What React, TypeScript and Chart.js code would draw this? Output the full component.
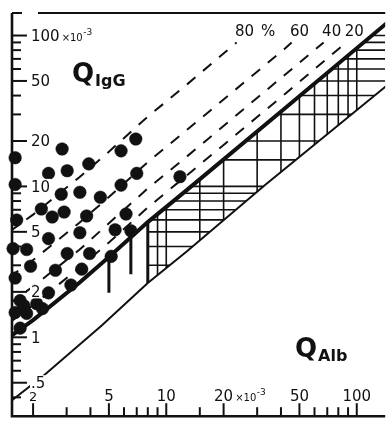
import React, { useEffect, useRef } from "react";
import { Chart, registerables } from "chart.js";

Chart.register(...registerables);

// ---- data (units ×10^-3) ----
const patientAlb = [1.61, 2.84, 2.41, 3.02, 3.92, 5.79, 6.92, 7.0, 1.61, 2.81, 3.52, 4.51, 5.79, 11.8, 2.21, 2.52, 2.91, 1.64, 3.82, 6.15, 2.41, 3.52, 5.39, 6.52, 1.57, 1.85, 3.02, 3.96, 5.14, 1.94, 2.62, 3.6, 1.61, 3.16, 2.41, 1.71, 1.79, 2.09, 2.24, 1.61, 1.85, 1.71];
const patientIgG = [15.5, 17.7, 12.2, 12.7, 14.1, 17.2, 20.6, 12.2, 10.3, 8.87, 9.14, 8.47, 10.2, 11.6, 7.08, 6.27, 6.76, 5.99, 6.37, 6.56, 4.51, 4.93, 5.16, 5.08, 3.87, 3.82, 3.59, 3.59, 3.44, 2.96, 2.78, 2.83, 2.47, 2.22, 1.97, 1.75, 1.62, 1.67, 1.55, 1.46, 1.44, 1.15];

const upperAlb = [1.5, 2, 3.5, 5, 8, 13, 42, 145];
const upperIgG = [1.0, 1.3, 2.3, 3.4, 5.8, 9.6, 33, 122];
const lowerAlb = [1.5, 2.3, 4.6, 8, 12.8, 33, 145];
const lowerIgG = [0.37, 0.565, 1.2, 2.29, 3.7, 10.2, 47];

const f20Alb = [1.5, 2, 3.5, 5, 8, 13, 42, 88];
const f20IgG = [1.25, 1.63, 2.9, 4.25, 7.25, 12, 41, 90];
const f40Alb = [1.5, 2, 3.5, 5, 8, 13, 42, 67];
const f40IgG = [1.67, 2.17, 3.8, 5.7, 9.7, 16, 55, 90];
const f60Alb = [1.5, 2, 3.5, 5, 8, 13, 42, 45.5];
const f60IgG = [2.5, 3.25, 5.75, 8.5, 14.5, 24, 82, 90];
const f80Alb = [1.5, 2, 3.5, 5, 8, 13, 23.4];
const f80IgG = [5, 6.5, 11.5, 17, 29, 48, 90];
const fractionLabels = ["20", "40", "60", "80"];

const barAlb = [5.0, 6.52];
const barTop = [3.44, 5.08];
const barBottom = [1.97, 2.62];

const xMajorTicks = [2, 5, 10, 20, 50, 100];
const xTickLabels = ["2", "5", "10", "20", "50", "100"];
const xMinorTicks = [3, 4, 6, 7, 8, 9, 15, 30, 40, 60, 70, 80, 90];
const yMajorTicks = [0.5, 1, 2, 5, 10, 20, 50, 100];
const yTickLabels = [".5", "1", "2", "5", "10", "20", "50", "100"];
const yMinorTicks = [0.4, 0.6, 0.7, 0.8, 0.9, 3, 4, 6, 7, 8, 9, 15, 30, 40, 60, 70, 80, 90];

const hatchStart = 8;
const hatchXLines = [9, 10, 15, 20, 30, 40, 50, 60, 70, 80, 90, 100];
const hatchYLines = [3, 4, 5, 6, 7, 8, 9, 10, 15, 20, 30, 40, 50, 60, 70, 80, 90, 100];

const X_MIN = 1.55, X_MAX = 141, Y_MIN = 0.305, Y_MAX = 141;

const INK = "#111";
const FONT = "'DejaVu Sans', sans-serif";

const pts = (xs: number[], ys: number[]) => xs.map((x, i) => ({ x, y: ys[i] }));

function drawText(ctx: CanvasRenderingContext2D, text: string, x: number, y: number, font: string, align: CanvasTextAlign = "left", bg = true) {
  ctx.font = font;
  ctx.textAlign = align;
  ctx.textBaseline = "alphabetic";
  const m = ctx.measureText(text);
  const w = m.width;
  if (bg) {
    const left = align === "center" ? x - w / 2 : align === "right" ? x - w : x;
    ctx.fillStyle = "#fff";
    ctx.fillRect(left - 1, y - m.actualBoundingBoxAscent - 1, w + 2, m.actualBoundingBoxAscent + m.actualBoundingBoxDescent + 2);
  }
  ctx.fillStyle = INK;
  ctx.fillText(text, x, y);
  return w;
}

function drawExp(ctx: CanvasRenderingContext2D, x: number, y: number) {
  const w1 = drawText(ctx, "×10", x, y, `10px ${FONT}`, "left", false);
  drawText(ctx, "-3", x + w1 + 0.5, y - 6, `9px ${FONT}`, "left", false);
}

const reiberPlugin = {
  id: "reiber",
  beforeDatasetsDraw(chart: any) {
    const { ctx, chartArea: ca } = chart;
    const xs = chart.scales.x, ys = chart.scales.y;
    const px = (v: number) => xs.getPixelForValue(v);
    const py = (v: number) => ys.getPixelForValue(v);

    // hatch region between limits for QAlb >= hatchStart
    const up = upperAlb.map((a, i) => [a, upperIgG[i]]).filter((p) => p[0] >= hatchStart);
    const lo = lowerAlb.map((a, i) => [a, lowerIgG[i]]).filter((p) => p[0] >= hatchStart);
    ctx.save();
    ctx.beginPath();
    ctx.rect(ca.left, ca.top, ca.right - ca.left, ca.bottom - ca.top);
    ctx.clip();
    ctx.beginPath();
    ctx.moveTo(px(up[0][0]), py(up[0][1]));
    for (let i = 1; i < up.length; i++) ctx.lineTo(px(up[i][0]), py(up[i][1]));
    for (let i = lo.length - 1; i >= 0; i--) ctx.lineTo(px(lo[i][0]), py(lo[i][1]));
    ctx.closePath();
    ctx.clip();
    ctx.strokeStyle = INK;
    ctx.lineWidth = 1.6;
    for (const v of hatchXLines) {
      ctx.beginPath();
      ctx.moveTo(px(v), ca.top);
      ctx.lineTo(px(v), ca.bottom);
      ctx.stroke();
    }
    for (const v of hatchYLines) {
      ctx.beginPath();
      ctx.moveTo(ca.left, py(v));
      ctx.lineTo(ca.right, py(v));
      ctx.stroke();
    }
    ctx.restore();

    // left boundary of hatch
    ctx.save();
    ctx.strokeStyle = INK;
    ctx.lineWidth = 3;
    ctx.beginPath();
    ctx.moveTo(px(hatchStart), py(up[0][1]));
    ctx.lineTo(px(hatchStart), py(lo[0][1]));
    ctx.stroke();

    // axes
    ctx.lineWidth = 2.6;
    ctx.beginPath();
    ctx.moveTo(ca.left, ca.top);
    ctx.lineTo(ca.left, ca.bottom);
    ctx.lineTo(ca.right, ca.bottom);
    ctx.stroke();
    ctx.lineWidth = 2;
    ctx.beginPath();
    ctx.moveTo(ca.left, ca.top);
    ctx.lineTo(ca.left + 10, ca.top);
    ctx.moveTo(ca.left + 26, ca.top);
    ctx.lineTo(ca.right, ca.top);
    ctx.stroke();

    ctx.lineWidth = 2;
    for (const v of yMajorTicks) {
      ctx.beginPath();
      ctx.moveTo(ca.left, py(v));
      ctx.lineTo(ca.left + 15, py(v));
      ctx.stroke();
    }
    for (const v of yMinorTicks) {
      ctx.beginPath();
      ctx.moveTo(ca.left, py(v));
      ctx.lineTo(ca.left + 9, py(v));
      ctx.stroke();
    }
    for (const v of xMajorTicks) {
      ctx.beginPath();
      ctx.moveTo(px(v), ca.bottom);
      ctx.lineTo(px(v), ca.bottom - 13);
      ctx.stroke();
    }
    for (const v of xMinorTicks) {
      ctx.beginPath();
      ctx.moveTo(px(v), ca.bottom);
      ctx.lineTo(px(v), ca.bottom - 9);
      ctx.stroke();
    }
    ctx.restore();
  },
  afterDatasetsDraw(chart: any) {
    const { ctx, chartArea: ca } = chart;
    const xs = chart.scales.x, ys = chart.scales.y;
    const px = (v: number) => xs.getPixelForValue(v);
    const py = (v: number) => ys.getPixelForValue(v);
    ctx.save();
    // y tick labels
    yMajorTicks.forEach((v, i) => {
      const w = drawText(ctx, yTickLabels[i], ca.left + 19, py(v) + 5.5, `15px ${FONT}`);
      if (v === 100) drawExp(ctx, ca.left + 19 + w + 2, py(v) + 5.5);
    });
    // x tick labels
    xMajorTicks.forEach((v, i) => {
      const small = v === 2;
      const w = drawText(ctx, xTickLabels[i], px(v), ca.bottom - 15, small ? `13px ${FONT}` : `15px ${FONT}`, "center");
      if (v === 20) drawExp(ctx, px(v) + w / 2 + 2, ca.bottom - 15);
    });
    // fraction labels at the ends of dashed lines
    const ends = [
      [f20Alb[f20Alb.length - 1], f20IgG[f20IgG.length - 1]],
      [f40Alb[f40Alb.length - 1], f40IgG[f40IgG.length - 1]],
      [f60Alb[f60Alb.length - 1], f60IgG[f60IgG.length - 1]],
      [f80Alb[f80Alb.length - 1], f80IgG[f80IgG.length - 1]],
    ];
    ends.forEach((e, i) => {
      drawText(ctx, fractionLabels[i], px(e[0]) + 8, py(e[1]) - 6, `15px ${FONT}`, "center", false);
    });
    const pctX = (px(ends[3][0]) + px(ends[2][0])) / 2 + 4;
    drawText(ctx, "%", pctX, py(ends[3][1]) - 6, `15px ${FONT}`, "center", false);

    // axis titles
    const wq = drawText(ctx, "Q", ca.left + 60, ca.top + 69, `bold 26px ${FONT}`, "left", false);
    drawText(ctx, "IgG", ca.left + 60 + wq + 1, ca.top + 73, `bold 16px ${FONT}`, "left", false);
    const wq2 = drawText(ctx, "Q", ca.left + 283, ca.bottom - 59, `bold 26px ${FONT}`, "left", false);
    drawText(ctx, "Alb", ca.left + 283 + wq2 + 1, ca.bottom - 55, `bold 16px ${FONT}`, "left", false);
    ctx.restore();
  },
};

export default function App() {
  const ref = useRef<HTMLCanvasElement | null>(null);
  useEffect(() => {
    if (!ref.current) return;
    const lineDs = (xs: number[], ys: number[], width: number, dash: number[] = [], order = 2) => ({
      data: pts(xs, ys),
      showLine: true,
      borderColor: INK,
      borderWidth: width,
      borderDash: dash,
      pointRadius: 0,
      fill: false,
      order,
    });
    const chart = new Chart(ref.current, {
      type: "scatter",
      data: {
        datasets: [
          lineDs(upperAlb, upperIgG, 4),
          lineDs(lowerAlb, lowerIgG, 2),
          lineDs(f20Alb, f20IgG, 2, [11, 10]),
          lineDs(f40Alb, f40IgG, 2, [11, 10]),
          lineDs(f60Alb, f60IgG, 2, [11, 10]),
          lineDs(f80Alb, f80IgG, 2, [11, 10]),
          ...barAlb.map((a, i) => lineDs([a, a], [barTop[i], barBottom[i]], 3)),
          {
            data: pts(patientAlb, patientIgG),
            showLine: false,
            pointRadius: 6.3,
            pointBackgroundColor: INK,
            pointBorderColor: INK,
            pointBorderWidth: 0.5,
            clip: false,
            order: 0,
          } as any,
        ],
      },
      options: {
        animation: false,
        responsive: false,
        events: [],
        layout: { padding: { left: 12, top: 13, right: 0, bottom: 2 } },
        scales: {
          x: { type: "logarithmic", min: X_MIN, max: X_MAX, display: false },
          y: { type: "logarithmic", min: Y_MIN, max: Y_MAX, display: false },
        },
        plugins: { legend: { display: false }, tooltip: { enabled: false } },
      },
      plugins: [reiberPlugin],
    } as any);
    return () => chart.destroy();
  }, []);
  return (
    <div style={{ position: "fixed", left: 0, top: 0, width: 392, height: 423, background: "#fff" }}>
      <canvas ref={ref} width={392} height={423} style={{ display: "block" }} />
    </div>
  );
}
